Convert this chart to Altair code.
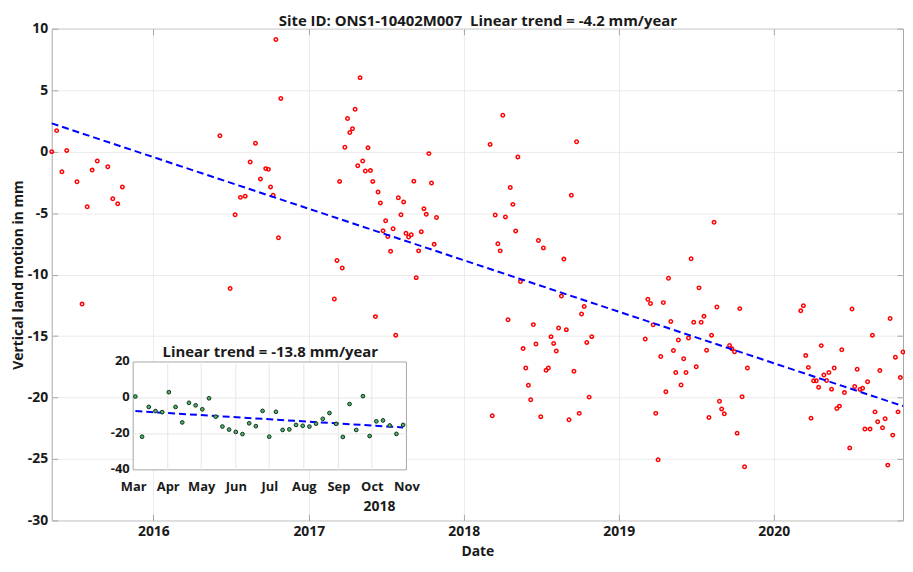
import altair as alt
import pandas as pd

# ---------------- main series (decimal year, mm) ----------------
main_years = [
    2015.344, 2015.376, 2015.410, 2015.441, 2015.507, 2015.540, 2015.573, 2015.605, 2015.638,
    2015.706, 2015.738, 2015.770, 2015.800,
    2016.428, 2016.494, 2016.526, 2016.560, 2016.591, 2016.623, 2016.657, 2016.689, 2016.723,
    2016.740, 2016.754, 2016.771, 2016.788, 2016.805, 2016.820,
    2017.165, 2017.182, 2017.199, 2017.216, 2017.233, 2017.250, 2017.265, 2017.282, 2017.299,
    2017.316, 2017.331, 2017.348, 2017.365, 2017.382, 2017.398, 2017.413, 2017.430, 2017.447,
    2017.462, 2017.479, 2017.496, 2017.510, 2017.528, 2017.544, 2017.561, 2017.578, 2017.595,
    2017.612, 2017.627, 2017.644, 2017.661, 2017.678, 2017.693, 2017.709, 2017.726, 2017.743,
    2017.758, 2017.775, 2017.792, 2017.809, 2017.824,
    2018.170, 2018.184, 2018.203, 2018.220, 2018.235, 2018.252, 2018.269, 2018.286, 2018.300,
    2018.317, 2018.335, 2018.349, 2018.366, 2018.383, 2018.400, 2018.417, 2018.432, 2018.449,
    2018.466, 2018.482, 2018.497, 2018.514, 2018.531, 2018.546, 2018.563, 2018.580, 2018.597,
    2018.612, 2018.630, 2018.646, 2018.662, 2018.679, 2018.694, 2018.711, 2018.728, 2018.745,
    2018.760, 2018.777, 2018.794, 2018.809, 2018.826,
    2019.171, 2019.188, 2019.205, 2019.222, 2019.239, 2019.254, 2019.271, 2019.288, 2019.304,
    2019.321, 2019.336, 2019.353, 2019.368, 2019.385, 2019.402, 2019.419, 2019.434, 2019.450,
    2019.467, 2019.484, 2019.500, 2019.518, 2019.532, 2019.550, 2019.567, 2019.582, 2019.599,
    2019.615, 2019.633, 2019.650, 2019.664, 2019.681, 2019.715, 2019.730, 2019.747, 2019.764,
    2019.781, 2019.796, 2019.812, 2019.830,
    2020.174, 2020.191, 2020.206, 2020.223, 2020.240, 2020.257, 2020.274, 2020.289, 2020.306,
    2020.323, 2020.340, 2020.355, 2020.372, 2020.389, 2020.406, 2020.423, 2020.438, 2020.455,
    2020.489, 2020.504, 2020.521, 2020.537, 2020.555, 2020.572, 2020.587, 2020.604, 2020.620,
    2020.635, 2020.652, 2020.669, 2020.683, 2020.700, 2020.717, 2020.734, 2020.749, 2020.766,
    2020.783, 2020.800, 2020.815, 2020.832,
]
main_mm = [
    0.00, 1.71, -1.64, 0.10, -2.45, -12.40, -4.48, -1.50, -0.76,
    -1.23, -3.83, -4.24, -2.87,
    1.29, -11.13, -5.13, -3.72, -3.62, -0.84, 0.69, -2.22, -1.38,
    -1.44, -2.87, -3.54, 9.12, -7.00, 4.33,
    -11.99, -8.85, -2.42, -9.47, 0.36, 2.70, 1.56, 1.87, 3.45,
    -1.15, 6.02, -0.76, -1.57, 0.31, -1.54, -2.42, -13.42, -3.28,
    -4.17, -6.43, -5.62, -6.90, -8.11, -6.27, -14.93, -3.75, -5.13,
    -4.09, -6.64, -6.95, -6.76, -2.40, -10.25, -8.07, -6.51, -4.64,
    -5.10, -0.16, -2.55, -7.54, -5.36,
    0.59, -21.48, -5.15, -7.49, -8.07, 2.96, -5.31, -13.68, -2.92,
    -4.29, -6.45, -0.43, -10.56, -16.02, -17.60, -19.00, -20.18, -14.07,
    -15.65, -7.23, -21.56, -7.83, -17.78, -17.60, -15.05, -15.60, -16.22,
    -14.35, -11.75, -8.74, -14.48, -21.81, -3.54, -17.86, 0.80, -21.29,
    -13.21, -12.59, -15.52, -19.97, -15.05,
    -15.24, -12.01, -12.35, -14.09, -21.29, -25.06, -16.67, -12.28, -19.53,
    -10.30, -13.81, -16.18, -17.97, -15.32, -18.98, -16.85, -17.97, -15.16,
    -8.71, -13.88, -17.50, -11.08, -13.88, -13.39, -16.15, -21.63, -14.93,
    -5.75, -12.64, -20.31, -20.93, -21.32, -15.76, -16.04, -16.28, -22.90,
    -12.77, -19.94, -25.63, -17.60,
    -12.95, -12.53, -16.59, -17.55, -21.68, -18.64, -18.64, -19.16, -15.78,
    -18.17, -18.62, -17.97, -19.32, -17.60, -20.90, -20.70, -16.12, -19.60,
    -24.10, -12.80, -19.11, -17.70, -19.34, -19.24, -22.57, -18.72, -22.57,
    -14.93, -21.17, -21.97, -17.81, -22.46, -21.73, -25.50, -13.57, -23.06,
    -16.72, -21.17, -18.38, -16.30,
]
trend_years = [2015.344, 2020.832]
trend_mm = [2.3, -20.7]

main_title = "Site ID: ONS1-10402M007\u00a0 Linear trend = -4.2 mm/year"
year_ticks = [2016, 2017, 2018, 2019, 2020]
y_ticks = [-30, -25, -20, -15, -10, -5, 0, 5, 10]

# ---------------- inset series (2018) ----------------
inset_dates = [
    "2018-03-03", "2018-03-09", "2018-03-15", "2018-03-21", "2018-03-27", "2018-04-02",
    "2018-04-08", "2018-04-14", "2018-04-20", "2018-04-26", "2018-05-02", "2018-05-08",
    "2018-05-14", "2018-05-20", "2018-05-26", "2018-06-01", "2018-06-07", "2018-06-13",
    "2018-06-19", "2018-06-25", "2018-07-01", "2018-07-07", "2018-07-13", "2018-07-19",
    "2018-07-25", "2018-07-31", "2018-08-06", "2018-08-12", "2018-08-18", "2018-08-24",
    "2018-08-30", "2018-09-05", "2018-09-11", "2018-09-17", "2018-09-23", "2018-09-29",
    "2018-10-05", "2018-10-11", "2018-10-17", "2018-10-23", "2018-10-29",
]
inset_mm = [
    0.8, -21.55, -5.0, -7.3, -7.9, 3.2, -5.0, -13.6, -2.7, -4.1, -6.3, -0.2,
    -10.4, -15.9, -17.6, -18.9, -20.1, -14.1, -15.7, -7.2, -21.55, -7.7, -17.8, -17.5,
    -15.0, -15.5, -15.9, -14.3, -11.6, -8.4, -14.4, -21.7, -3.4, -17.8, 1.0, -21.2,
    -13.0, -12.5, -15.3, -20.0, -15.0,
]
inset_trend_dates = ["2018-03-03", "2018-10-29"]
inset_trend_mm = [-7.3, -16.4]
inset_title = "Linear trend = -13.8 mm/year"
inset_year = "2018"
month_ticks = ["2018-03-01", "2018-04-01", "2018-05-01", "2018-06-01", "2018-07-01",
               "2018-08-01", "2018-09-01", "2018-10-01", "2018-11-01"]
inset_y_ticks = [-40, -20, 0, 20]


# ---------------- helpers ----------------
def dec_to_ts(v):
    yr = int(v)
    a = pd.Timestamp(year=yr, month=1, day=1)
    b = pd.Timestamp(year=yr + 1, month=1, day=1)
    return a + (v - yr) * (b - a)


def dt(ts):
    ts = pd.Timestamp(ts)
    return alt.DateTime(year=ts.year, month=ts.month, date=ts.day,
                        hours=ts.hour, minutes=ts.minute)


main_df = pd.DataFrame({"date": [dec_to_ts(v) for v in main_years], "mm": main_mm})
trend_df = pd.DataFrame({"date": [dec_to_ts(v) for v in trend_years], "mm": trend_mm})
inset_df = pd.DataFrame({"date": pd.to_datetime(inset_dates), "mm": inset_mm})
inset_trend_df = pd.DataFrame({"date": pd.to_datetime(inset_trend_dates), "mm": inset_trend_mm})
box_df = pd.DataFrame({"x0": [pd.Timestamp(month_ticks[0])], "x1": [pd.Timestamp(month_ticks[-1])],
                       "y0": [inset_y_ticks[0]], "y1": [inset_y_ticks[-1]]})
xgrid_df = pd.DataFrame({"date": pd.to_datetime(month_ticks[1:-1]),
                         "lo": inset_y_ticks[0], "hi": inset_y_ticks[-1]})
ygrid_df = pd.DataFrame({"mm": inset_y_ticks[1:-1],
                         "x0": pd.Timestamp(month_ticks[0]), "x1": pd.Timestamp(month_ticks[-1])})

W, H = 857, 495
PAD_L, PAD_T, PAD_R, PAD_B = 44, 19, 2, 40
FONT = "Open Sans"
TXT = "#1a1a1a"
AXC = "#a6a6a6"
TICK = 6

# main scales
xs = alt.Scale(domain=[dt(main_df["date"].min()), dt(main_df["date"].max())])
ys = alt.Scale(domain=[y_ticks[0], y_ticks[-1]], nice=False, zero=False)
# inset scales (placed inside the plot area through their ranges)
IX0, IX1, IY0, IY1 = 82.0, 357.1, 444.1, 335.5
xi = alt.Scale(domain=[dt(month_ticks[0]), dt(month_ticks[-1])], range=[IX0, IX1])
yi = alt.Scale(domain=[inset_y_ticks[0], inset_y_ticks[-1]], range=[IY0, IY1], nice=False, zero=False)

year_vals = [alt.DateTime(year=y, month=1, date=1) for y in year_ticks]
month_vals = [dt(m) for m in month_ticks]
lab = "'' + datum.value"

x_lab_axis = alt.Axis(orient="bottom", values=year_vals, format="%Y", ticks=False, domain=False,
                      grid=True, labelPadding=4, labelOverlap=False, labelFlush=False,
                      title="Date", titleFontSize=14, titleBaseline="alphabetic", titleY=35)
y_lab_axis = alt.Axis(orient="left", values=y_ticks, labelExpr=lab, ticks=False, domain=False,
                      grid=True, labelPadding=4, labelOverlap=False, labelFlush=False,
                      title="Vertical land motion in mm", titleFontSize=14,
                      titleX=15 - PAD_L, titleY=H / 2, titleBaseline="alphabetic")


def tick_axis(orient, vals, **kw):
    opts = dict(orient=orient, values=vals, labels=False, domain=False, grid=False,
                ticks=True, tickSize=TICK, tickColor=AXC, offset=-TICK, title=None)
    opts.update(kw)
    return alt.Axis(**opts)


points = alt.Chart(main_df).mark_point(shape="circle", stroke="#ff0000", strokeWidth=1.5,
                                       size=12, opacity=1).encode(
    x=alt.X("date:T", scale=xs, axis=x_lab_axis),
    y=alt.Y("mm:Q", scale=ys, axis=y_lab_axis),
)
trend = alt.Chart(trend_df).mark_line(color="#0000ff", strokeWidth=2, strokeDash=[7, 4]).encode(
    x=alt.X("date:T", scale=xs,
            axis=tick_axis("top", year_vals, title=main_title, titleFontSize=15,
                           titleBaseline="alphabetic", titleY=-(PAD_T - 16) - TICK,
                           titleX=W / 2, titleAlign="center")),
    y=alt.Y("mm:Q", scale=ys, axis=tick_axis("right", y_ticks)),
)
ticks_bl = alt.Chart(main_df).mark_point(opacity=0).encode(
    x=alt.X("date:T", scale=xs, axis=tick_axis("bottom", year_vals)),
    y=alt.Y("mm:Q", scale=ys, axis=tick_axis("left", y_ticks)),
)

inset_box = alt.Chart(box_df).mark_rect(fill="white", stroke=AXC, strokeWidth=1).encode(
    x=alt.X("x0:T", scale=xi,
            axis=alt.Axis(orient="top", offset=-IY1, labels=False, ticks=False, domain=False,
                          grid=False, title=inset_title, titleFontSize=15, titlePadding=3)),
    x2="x1:T",
    y=alt.Y("y0:Q", scale=yi, axis=None),
    y2="y1:Q",
)
inset_xgrid = alt.Chart(xgrid_df).mark_rule(color="#e6e6e6", strokeWidth=1).encode(
    x=alt.X("date:T", scale=xi, axis=None),
    y=alt.Y("lo:Q", scale=yi, axis=None),
    y2="hi:Q",
)
inset_ygrid = alt.Chart(ygrid_df).mark_rule(color="#e6e6e6", strokeWidth=1).encode(
    x=alt.X("x0:T", scale=xi, axis=None),
    x2="x1:T",
    y=alt.Y("mm:Q", scale=yi, axis=None),
)
inset_trend = alt.Chart(inset_trend_df).mark_line(color="#0000ff", strokeWidth=2,
                                                  strokeDash=[7, 4]).encode(
    x=alt.X("date:T", scale=xi, axis=None),
    y=alt.Y("mm:Q", scale=yi, axis=None),
)
inset_pts = alt.Chart(inset_df).mark_point(shape="circle", fill="#4fb36b", fillOpacity=1,
                                           stroke="#10301a", strokeWidth=1, size=14,
                                           opacity=1).encode(
    x=alt.X("date:T", scale=xi,
            axis=alt.Axis(orient="bottom", offset=-(H - IY0), values=month_vals, format="%b",
                          ticks=False, domain=False, grid=False, labelPadding=11,
                          labelFontSize=13, labelOverlap=False, labelFlush=False,
                          title=inset_year, titleX=329.5, titleY=41, titleAlign="center",
                          titleBaseline="alphabetic", titleFontSize=14)),
    y=alt.Y("mm:Q", scale=yi,
            axis=alt.Axis(orient="left", offset=-IX0, values=inset_y_ticks, labelExpr=lab,
                          ticks=False, domain=False, grid=False, labelPadding=4,
                          labelFontSize=13, labelOffset=-1,
                          labelOverlap=False, labelFlush=False, title=None)),
)

chart = alt.layer(
    points, trend, ticks_bl, inset_box, inset_xgrid, inset_ygrid, inset_trend, inset_pts
).resolve_scale(x="independent", y="independent").properties(
    width=W, height=H,
    padding={"left": PAD_L, "top": PAD_T, "right": PAD_R, "bottom": PAD_B},
    autosize=alt.AutoSizeParams(type="none"),
    background="white",
).configure_view(stroke=AXC, strokeWidth=1).configure_axis(
    labelFont=FONT, labelFontSize=14, labelFontWeight="bold", labelColor=TXT,
    titleFont=FONT, titleFontWeight="bold", titleColor=TXT,
    gridColor="#ebebeb", gridWidth=1,
)

chart.save("out.html", embed_options={"renderer": "svg", "actions": False})
